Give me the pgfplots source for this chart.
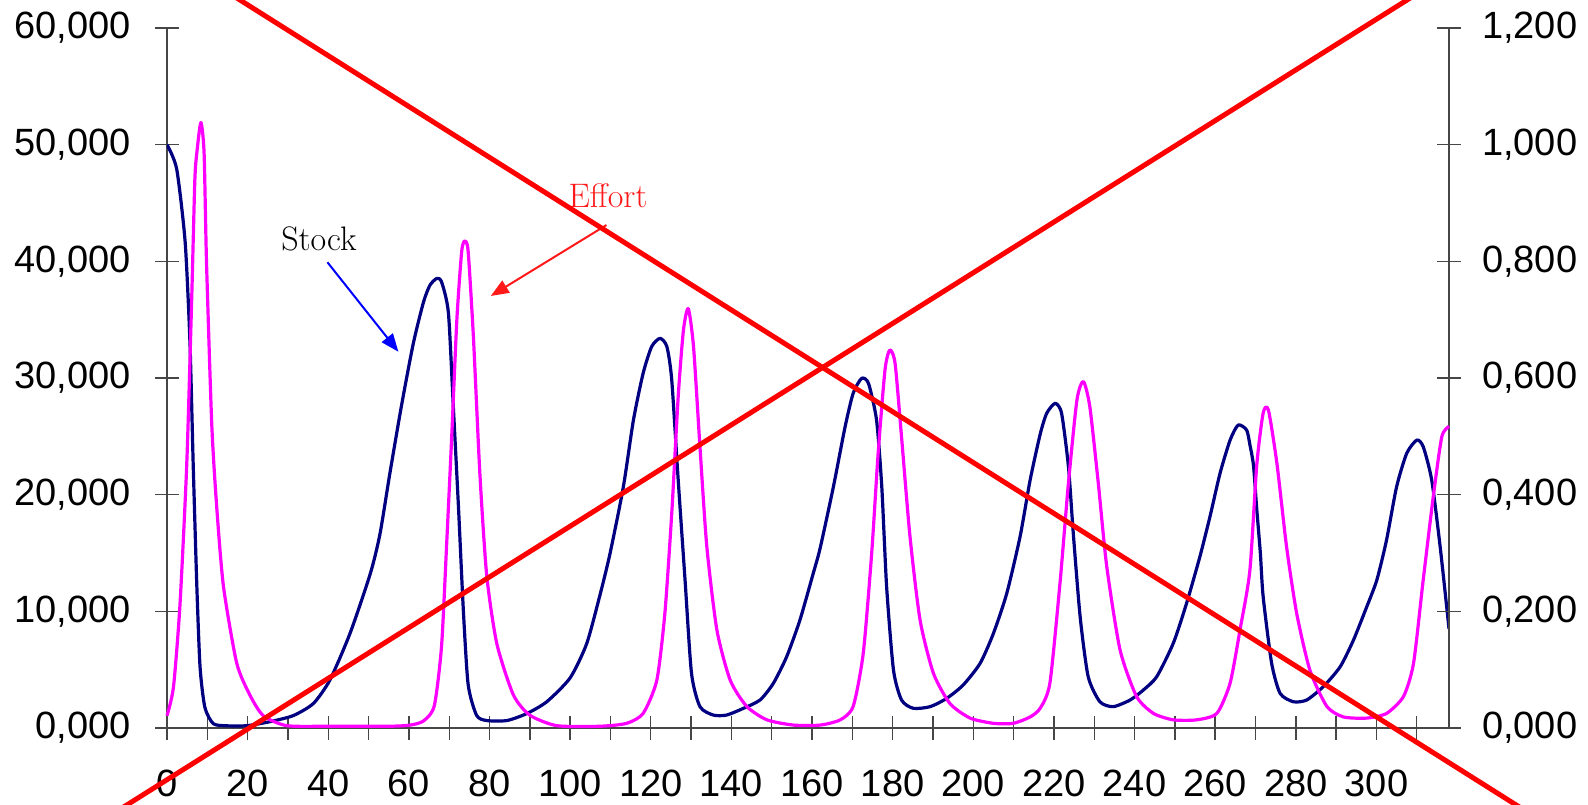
\documentclass[border=0pt]{standalone}
\usepackage{fontspec}
\usepackage{pgfplots}
\pgfplotsset{compat=1.18}
\usetikzlibrary{arrows.meta}
\newfontfamily\arial{Liberation Sans}
\definecolor{stocknavy}{RGB}{0,0,128}
\definecolor{effmag}{RGB}{255,0,255}
\definecolor{axisgray}{RGB}{70,70,70}
\definecolor{xred}{RGB}{255,0,0}
\begin{document}
\begin{tikzpicture}
\path[use as bounding box] (-83.5pt,-38pt) rectangle (710.5pt,364pt);
\clip (-83.5pt,-38pt) rectangle (710.5pt,364pt);
\pgfplotsset{
  common/.style={at={(0pt,0pt)}, anchor=south west, scale only axis,
    width=641pt, height=350pt, xmin=0, xmax=318,
    tick align=center, major tick length=12pt, minor tick length=12pt,
    every tick/.style={draw=axisgray, line width=0.7pt},
    minor tick style={draw=axisgray, line width=0.7pt},
    tick label style={font=\arial\fontsize{19pt}{21pt}\selectfont, text=black},
  },
  nolinearrows/.style={
    axis line style={-, draw=axisgray, line width=0.7pt},
    every outer x axis line/.append style={-},
    every outer y axis line/.append style={-},
    every inner x axis line/.append style={-},
    every inner y axis line/.append style={-},
  }
}
\begin{axis}[common,
  ymin=0, ymax=60000,
  axis x line=bottom, axis y line=left, nolinearrows,
  xtick={0,20,...,300}, minor xtick={10,30,...,310},
  xticklabels={0,20,40,60,80,100,120,140,160,180,200,220,240,260,280,300},
  ytick={0,10000,20000,30000,40000,50000,60000},
  yticklabels={{0,000},{10,000},{20,000},{30,000},{40,000},{50,000},{60,000}},
  xticklabel style={yshift=-11.5pt},
  yticklabel style={xshift=-8.75pt},
  scaled y ticks=false]
\addplot[stocknavy, line width=1.6pt, line join=round, smooth, tension=0.4] coordinates {
(0,50000) (2.4,47920) (4.5,41670) (5.7,33000) (6.5,22580) (7.4,12170) (8.2,5230) (9.4,1760)
(11.5,370) (14.8,190) (19.8,200) (25.5,540) (31.3,1060) (36.3,2100) (40.4,4110) (45.4,8110)
(50.4,13200) (52.8,16580) (55.3,21860) (58.2,27700) (61.1,32970) (63.6,36480) (65.2,37940)
(66.9,38530) (68.1,38240) (69.8,35600) (71.0,27700) (72.3,18930) (73.5,10150) (74.7,3720)
(76.8,1080) (79.3,640) (84.3,640) (89.2,1230) (94.2,2250) (100.0,4300) (104.1,7230)
(107.4,11400) (109.9,14970) (113.2,20680) (115.7,26400) (118.1,30400) (120.2,32680)
(122.3,33400) (124.0,32680) (125.2,29830) (126.8,21260) (128.5,12690) (130.1,4690)
(132.2,1830) (135.5,1110) (138.8,1110) (143.0,1690) (147.1,2400) (150.4,3830) (153.7,6110)
(157.0,9260) (160.3,13260) (162.0,15400) (165.3,20680) (168.2,25820) (170.2,28690)
(172.3,29970) (174.0,29540) (176.0,26400) (177.3,20680) (178.5,12110) (180.2,4970)
(182.2,2400) (185.1,1690) (189.3,1830) (193.4,2540) (197.5,3690) (201.7,5550) (205.0,8120)
(208.3,11540) (211.6,16400) (214.1,21260) (216.6,25200) (218.2,26970) (220.3,27830)
(221.9,26970) (223.6,22400) (224.8,16690) (226.5,9540) (228.5,4400) (231.4,2250)
(234.7,1830) (238.9,2400) (242.2,3260) (245.5,4400) (249.6,7260) (252.9,10690)
(256.2,14680) (258.7,18110) (261.2,21830) (263.7,24680) (265.7,25970) (267.8,25540)
(268.6,24300) (269.5,22500) (270.3,18800) (271.2,15000) (271.9,11250) (274.0,5550)
(276.1,2970) (279.4,2250) (282.7,2400) (286.8,3540) (291.0,5250) (294.3,7540) (297.6,10400)
(300.1,12690) (302.5,16110) (305.0,20680) (307.5,23540) (310.0,24680) (311.6,24110)
(313.7,21260) (315.8,15540) (318,8500)
};
\end{axis}
\begin{axis}[common,
  ymin=0, ymax=1.2,
  axis x line=none, axis y line=right, nolinearrows,
  ytick={0,0.2,0.4,0.6,0.8,1.0,1.2},
  yticklabels={{0,000},{0,200},{0,400},{0,600},{0,800},{1,000},{1,200}},
  yticklabel style={xshift=7pt},
  clip=false]
\addplot[effmag, line width=1.6pt, line join=round, smooth, tension=0.4] coordinates {
(0,0.021) (1.6,0.070) (3.2,0.209) (4.9,0.452) (6.1,0.729) (6.9,0.938) (7.4,0.986) (8.4,1.038)
(9.2,0.986) (9.8,0.799) (11.1,0.521) (12.3,0.382) (14.0,0.243) (17.3,0.111) (20.6,0.056)
(23.9,0.021) (29.7,0.004) (40,0.003) (55,0.003) (60.3,0.005) (63.6,0.012) (66.3,0.038)
(68.1,0.140) (69.4,0.32) (70.6,0.496) (71.9,0.70) (73.1,0.817) (73.9,0.835) (74.7,0.817)
(76.0,0.671) (77.6,0.437) (79.3,0.262) (81.8,0.145) (85.9,0.057) (90.0,0.022) (96.7,0.004)
(107.4,0.003) (114.0,0.008) (118.1,0.025) (121.5,0.082) (123.5,0.197) (125.2,0.368)
(126.8,0.568) (128.1,0.682) (129.3,0.719) (130.6,0.654) (132.2,0.482) (133.9,0.311)
(136.4,0.168) (139.7,0.082) (143.8,0.037) (148.8,0.014) (155.4,0.005) (162,0.005)
(167,0.014) (170.2,0.037) (172.7,0.128) (174.8,0.30) (176.4,0.471) (178.1,0.614)
(179.3,0.648) (180.6,0.625) (182.2,0.499) (184.3,0.328) (186.8,0.185) (190.1,0.094)
(194.2,0.042) (199.2,0.017) (205,0.008) (209.9,0.008) (214.1,0.019) (216.6,0.034)
(219.0,0.077) (221.5,0.248) (223.6,0.42) (225.7,0.562) (227.3,0.594) (228.9,0.551)
(231.0,0.42) (233.1,0.277) (236.4,0.134) (240.5,0.054) (244.7,0.025) (249.6,0.014)
(255.4,0.014) (260.4,0.025) (263.7,0.077) (266.2,0.17) (268.6,0.27) (270.3,0.45)
(271.9,0.54) (273.2,0.545) (275.3,0.454) (277.7,0.311) (280.2,0.197) (283.5,0.099)
(287.7,0.037) (291.8,0.019) (297.6,0.017) (302.5,0.025) (306.7,0.054) (309.2,0.111)
(311.6,0.254) (314.1,0.397) (316.2,0.499) (318,0.517)
};
% annotations
\node[font=\fontsize{17pt}{19pt}\selectfont, text=black] at (axis cs:37.7,0.8382) {Stock};
\draw[blue, line width=1pt, -{Triangle[length=9pt,width=7pt]}] (axis cs:39.8,0.7984) -- (axis cs:57.4,0.645);
\node[font=\fontsize{17pt}{19pt}\selectfont, text=red!90!white] at (axis cs:109.4,0.9128) {Effort};
\draw[red!90!white, line width=1pt, -{Triangle[length=9pt,width=7pt]}] (axis cs:109.0,0.8622) -- (axis cs:80.3,0.7406);
% big red cross
\draw[xred, line width=2.5pt] (axis cs:-13.47,1.38566) -- (axis cs:365.45,-0.26622);
\draw[xred, line width=2.5pt] (axis cs:-40.85,-0.26622) -- (axis cs:339.26,1.38566);
\end{axis}
\end{tikzpicture}
\end{document}
